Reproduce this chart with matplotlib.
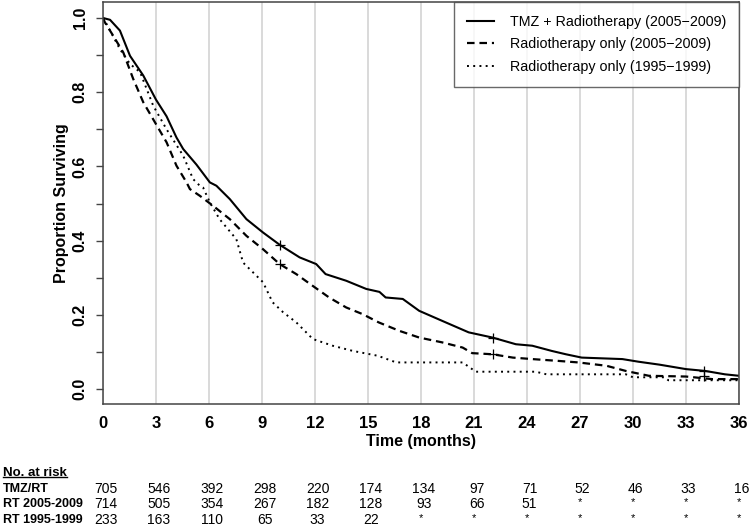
import matplotlib
matplotlib.use("Agg")
import matplotlib.pyplot as plt
import matplotlib.transforms as mtransforms
from matplotlib.lines import Line2D

plt.rcParams['font.family'] = ['Liberation Sans', 'DejaVu Sans']

# curves (months, proportion surviving)
tmz_t = [0, 0.4, 0.96, 1.53, 2.28, 3.0, 3.6, 4.16, 4.54, 5.29, 6.05, 6.42, 7.18, 8.12, 9.06,
         10.0, 11.13, 12.07, 12.6, 13.77, 14.9, 15.65, 16.0, 16.97, 17.9, 19.2, 20.7, 22.05,
         23.37, 24.3, 25.4, 26.2, 27.1, 29.4, 30.3, 31.5, 33.0, 34.1, 35.2, 36]
tmz_s = [1.0, 0.995, 0.966, 0.898, 0.845, 0.78, 0.735, 0.678, 0.647, 0.605, 0.557, 0.548, 0.512,
         0.458, 0.422, 0.389, 0.355, 0.337, 0.31, 0.292, 0.27, 0.262, 0.247, 0.243, 0.211, 0.184,
         0.153, 0.139, 0.121, 0.117, 0.103, 0.094, 0.085, 0.081, 0.074, 0.066, 0.054, 0.049,
         0.04, 0.036]

rt05_t = [0, 0.11, 0.58, 1.15, 1.71, 2.28, 2.94, 3.6, 4.16, 4.73, 4.92, 5.48, 6.23, 7.18, 8.12,
          9.06, 10.0, 10.94, 11.88, 12.8, 13.77, 14.7, 15.6, 16.78, 17.9, 19.2, 20.36, 20.9,
          22.05, 23.2, 24.3, 25.8, 26.9, 28.5, 29.6, 30.9, 33.0, 34.5, 36]
rt05_s = [1.0, 0.988, 0.952, 0.907, 0.836, 0.773, 0.719, 0.665, 0.602, 0.557, 0.539, 0.521,
          0.494, 0.458, 0.413, 0.377, 0.337, 0.31, 0.278, 0.247, 0.22, 0.202, 0.18, 0.157, 0.139,
          0.126, 0.112, 0.097, 0.094, 0.085, 0.081, 0.076, 0.072, 0.063, 0.049, 0.036, 0.034,
          0.027, 0.027]

rt95_t = [0, 0.2, 0.96, 1.53, 2.1, 2.84, 3.6, 4.54, 5.1, 5.48, 5.67, 6.05, 6.6, 7.55, 7.93,
          9.06, 9.6, 10.2, 10.94, 11.88, 13.0, 14.14, 15.55, 16.6, 20.36, 21.1, 24.5, 25.1,
          29.6, 30.0, 31.8, 32.0, 36]
rt95_s = [1.0, 0.984, 0.916, 0.876, 0.854, 0.764, 0.7, 0.629, 0.566, 0.548, 0.543, 0.503, 0.458,
          0.404, 0.341, 0.288, 0.234, 0.207, 0.18, 0.135, 0.117, 0.103, 0.09, 0.072, 0.072,
          0.047, 0.047, 0.04, 0.04, 0.032, 0.032, 0.024, 0.024]

# censor marks
cens_t = [10.0, 22.05, 34.0, 10.0, 22.05, 34.0]
cens_s = [0.389, 0.139, 0.05, 0.337, 0.094, 0.036]

labels = ["TMZ + Radiotherapy (2005\u22122009)",
          "Radiotherapy only (2005\u22122009)",
          "Radiotherapy only (1995\u22121999)"]

risk_times = [0, 3, 6, 9, 12, 15, 18, 21, 24, 27, 30, 33, 36]
risk_rows = ["TMZ/RT", "RT 2005-2009", "RT 1995-1999"]
risk_tmz = ["705", "546", "392", "298", "220", "174", "134", "97", "71", "52", "46", "33", "16"]
risk_rt05 = ["714", "505", "354", "267", "182", "128", "93", "66", "51", "*", "*", "*", "*"]
risk_rt95 = ["233", "163", "110", "65", "33", "22", "*", "*", "*", "*", "*", "*", "*"]

fig = plt.figure(figsize=(7.5, 5.27), dpi=100)
ax = fig.add_axes([0.1373, 0.2334, 0.8480, 0.7628])

for x in risk_times:
    ax.axvline(x, color="#d0d0d0", lw=1.1, zorder=0)

ax.plot(tmz_t, tmz_s, color="black", lw=1.5, label=labels[0])
ax.plot(rt05_t, rt05_s, color="black", lw=1.6, linestyle=(0, (3.4, 2.2)), label=labels[1])
ax.plot(rt95_t, rt95_s, color="black", lw=1.4, linestyle=(0, (1, 2.2)), label=labels[2])
ax.plot(cens_t, cens_s, "+", color="black", ms=6.5, mew=0.9)

ax.set_xlim(0, 36)
ax.set_ylim(-0.04, 1.043)
ax.set_xticks(risk_times)
ax.set_yticks([0, 0.2, 0.4, 0.6, 0.8, 1.0])
ax.set_yticks([0.1, 0.3, 0.5, 0.7, 0.9], minor=True)
ax.set_yticklabels(["0.0", "0.2", "0.4", "0.6", "0.8", "1.0"], rotation=90, va="center",
                   fontsize=11.5, fontweight="bold")
ax.set_xticklabels([str(x) for x in risk_times], fontsize=12, fontweight="bold")
ax.tick_params(axis="x", length=0, pad=9)
ax.tick_params(axis="y", which="both", length=5, width=1, color="#444444", pad=6)
for sp in ax.spines.values():
    sp.set_color("#444444")
    sp.set_linewidth(1.1)

ax.set_xlabel("Time (months)", fontsize=11.5, fontweight="bold", labelpad=2)
ax.set_ylabel("Proportion Surviving", fontsize=11.5, fontweight="bold", labelpad=3)

leg = ax.legend(loc="upper right", borderaxespad=0, fontsize=10.3, fancybox=False,
                handlelength=1.9, handletextpad=1.1, labelspacing=0.6, borderpad=0.9,
                frameon=True)
leg.get_frame().set_edgecolor("#444444")
leg.get_frame().set_linewidth(1.0)

# number at risk table
trans = mtransforms.blended_transform_factory(ax.transData, fig.transFigure)
head = fig.text(0.004, 0.1025, "No. at risk", fontsize=9.5, fontweight="bold", va="center")
row_y = [0.0721, 0.0436, 0.0142]
for lab, vals, y in zip(risk_rows, [risk_tmz, risk_rt05, risk_rt95], row_y):
    fig.text(0.004, y, lab, fontsize=9, fontweight="bold", va="center")
    for x, v in zip(risk_times, vals):
        if v == "*":
            ax.text(x, y + 0.003, v, transform=trans, fontsize=8, ha="center", va="center")
        else:
            ax.text(x + 0.15, y, v, transform=trans, fontsize=10, ha="center", va="center")

fig.canvas.draw()
bb = head.get_window_extent().transformed(fig.transFigure.inverted())
fig.add_artist(Line2D([bb.x0, bb.x1], [bb.y0 + 0.003, bb.y0 + 0.003], color="black", lw=1.0,
                      transform=fig.transFigure))

fig.savefig("out.png", dpi=100)
